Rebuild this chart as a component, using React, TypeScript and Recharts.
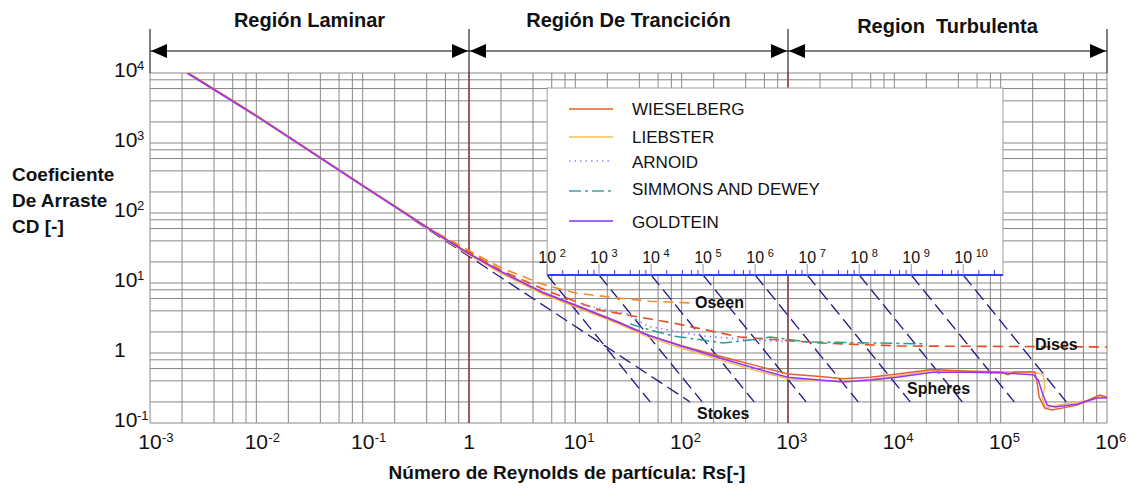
import React from "react";
import { LineChart, Line, XAxis, YAxis, ReferenceLine } from "recharts";

const W = 1131;
const H = 491;
const PL = 150;
const PR = 1107;
const PT = 73;
const PB = 423;
const FONT = '"Liberation Sans", Arial, sans-serif';

const reTicks = [1e-3, 1e-2, 1e-1, 1, 1e1, 1e2, 1e3, 1e4, 1e5, 1e6];
const cdTicks = [1e-1, 1, 1e1, 1e2, 1e3, 1e4];
const gridSteps = [1, 2, 4, 6, 8];

const goldteinRe = [0.00223, 0.01, 0.1, 0.5, 1, 2, 5, 11.8, 25, 48, 100, 230, 500, 1000, 2000, 3300, 6000, 10600, 23000, 50000, 106000, 203000, 226000, 246000, 274000, 326000, 525000, 810000, 1000000];
const goldteinCd = [10000, 2420, 245, 50, 26, 14.5, 7.3, 4.4, 2.8, 1.81, 1.25, 0.85, 0.6, 0.45, 0.41, 0.385, 0.41, 0.45, 0.53, 0.53, 0.52, 0.49, 0.41, 0.27, 0.18, 0.17, 0.187, 0.228, 0.228];

const wieselbergRe = [0.00223, 0.01, 0.1, 0.5, 1, 2, 5, 11.8, 25, 48, 100, 230, 500, 1000, 2000, 3300, 6000, 10600, 23000, 50000, 100000, 117000, 135000, 210000, 220000, 230000, 260000, 305000, 525000, 850000, 1000000];
const wieselbergCd = [10300, 2480, 250, 51, 26.5, 14.6, 7.2, 4.3, 2.75, 1.8, 1.27, 0.9, 0.66, 0.5, 0.46, 0.43, 0.45, 0.5, 0.58, 0.55, 0.535, 0.49, 0.535, 0.535, 0.385, 0.235, 0.163, 0.153, 0.18, 0.25, 0.235];

const liebsterRe = [0.00223, 0.01, 0.1, 0.5, 1, 2, 5, 11.8, 25, 48, 100, 230, 500, 1000, 2000, 3300, 6000, 10600, 23000, 50000, 100000, 200000, 250000, 262000, 245000, 262000, 420000, 650000, 850000, 1000000];
const liebsterCd = [10000, 2400, 242, 49, 25, 13.8, 6.9, 4.15, 2.65, 1.7, 1.17, 0.8, 0.56, 0.43, 0.4, 0.39, 0.42, 0.47, 0.56, 0.55, 0.54, 0.53, 0.5, 0.32, 0.235, 0.165, 0.19, 0.21, 0.24, 0.23];

const arnoidRe = [11.8, 30.7, 47.3, 83.2, 159, 355, 1047];
const arnoidCd = [4.85, 3.61, 2.43, 2.06, 1.75, 1.58, 1.44];

const simmonsRe = [32.8, 47.3, 83.2, 246, 441, 680, 1517, 20400];
const simmonsCd = [2.6, 2.2, 1.75, 1.39, 1.53, 1.69, 1.44, 1.35];

const oseenRe = [0.5, 1, 2, 5, 10, 25, 50, 120];
const oseenCd = [52, 29, 16.5, 9.5, 7.2, 6.1, 5.5, 5.2];

const disesRe = [0.5, 1, 2, 5.8, 17, 83, 355, 2000, 11000, 1000000];
const disesCd = [50, 27.5, 15.2, 7.4, 4.1, 2.68, 1.69, 1.39, 1.26, 1.22];

const stokesRe = [0.3, 120];
const stokesCd = [80, 0.2];

// CD·Re² lines, one per tick of the inner scale (10^2 … 10^10)
const kExp = [2, 3, 4, 5, 6, 7, 8, 9, 10];
const kStartRe = [5.43, 16.7, 51.6, 159, 491, 1517, 4677, 14420, 44460];
const kEndRe = [50.6, 156, 481, 1483, 4571, 14120, 43550, 134300, 414000];
const kTopCd = 13;
const kBottomCd = 0.2;

const legendItems = [
  { name: "WIESELBERG", color: "#e4602e", dash: undefined, width: 1.5 },
  { name: "LIEBSTER", color: "#f6cf7e", dash: undefined, width: 2 },
  { name: "ARNOID", color: "#8a8aff", dash: "1.5 4", width: 1.5 },
  { name: "SIMMONS AND DEWEY", color: "#3aa6a2", dash: "12 4 3 4", width: 1.5 },
  { name: "GOLDTEIN", color: "#a366f2", dash: undefined, width: 2 },
];

const regions = [
  { from: 1e-3, to: 1, label: "Región Laminar", base: 27 },
  { from: 1, to: 1e3, label: "Región De Trancición", base: 27 },
  { from: 1e3, to: 1e6, label: "Region  Turbulenta", base: 33 },
];

const zip = (re: number[], cd: number[]) => re.map((r, i) => ({ re: r, cd: cd[i] }));

const gridRe: number[] = [];
for (let e = -3; e < 6; e++) gridSteps.forEach((s) => gridRe.push(s * Math.pow(10, e)));
gridRe.push(1e6);
const gridCd: number[] = [];
for (let e = -1; e < 4; e++) gridSteps.forEach((s) => gridCd.push(s * Math.pow(10, e)));
gridCd.push(1e4);

// pixel helpers for the overlay (same geometry as the plot area)
const px = (re: number) => PL + ((Math.log10(re) + 3) * (PR - PL)) / 9;
const py = (cd: number) => PB - ((Math.log10(cd) + 1) * (PB - PT)) / 5;

function XTick(props: any) {
  const { x, payload } = props;
  const e = Math.round(Math.log10(payload.value));
  if (e === 0)
    return (
      <text x={x} y={449} textAnchor="middle" fontSize={21} fontFamily={FONT} fill="#111">
        1
      </text>
    );
  return (
    <g fontFamily={FONT} fill="#111">
      <text x={x} y={449} textAnchor="middle" fontSize={21}>10</text>
      <text x={x + 12} y={442} fontSize={13}>{e}</text>
    </g>
  );
}

function YTick(props: any) {
  const { y, payload } = props;
  const e = Math.round(Math.log10(payload.value));
  const base = y + 4;
  if (e === 0)
    return (
      <text x={114} y={base} fontSize={21} fontFamily={FONT} fill="#111">
        1
      </text>
    );
  return (
    <g fontFamily={FONT} fill="#111">
      <text x={114} y={base} fontSize={21}>10</text>
      <text x={137} y={base - 7} fontSize={13}>{e}</text>
    </g>
  );
}

function Arrow({ x, dir }: { x: number; dir: number }) {
  const y = 51;
  return <polygon points={`${x},${y} ${x + dir * 16},${y - 7} ${x + dir * 16},${y + 7}`} fill="#000" />;
}

function Overlay() {
  const x0 = px(kStartRe[0]);
  const x1 = PR - 104;
  const axisY = py(kTopCd);
  const dec = px(kStartRe[1]) - px(kStartRe[0]);
  const boxTop = 88;
  const rowY = [109, 137, 161, 191, 221];
  const rowBase = [115, 143, 168, 195, 228];
  const bounds = [1e-3, 1, 1e3, 1e6];
  return (
    <svg width={W} height={H} style={{ position: "absolute", left: 0, top: 0, pointerEvents: "none" }}>
      {/* region header */}
      {bounds.map((b) => (
        <line key={b} x1={px(b)} x2={px(b)} y1={29} y2={PT} stroke="#000" strokeWidth={1} />
      ))}
      <line x1={PL} x2={PR} y1={51} y2={51} stroke="#000" strokeWidth={1.2} />
      {regions.map((r) => (
        <g key={r.label}>
          <Arrow x={px(r.from) + 1} dir={1} />
          <Arrow x={px(r.to) - 1} dir={-1} />
          <text x={(px(r.from) + px(r.to)) / 2} y={r.base} textAnchor="middle" fontSize={20} fontWeight="bold" fontFamily={FONT} fill="#111" style={{ whiteSpace: "pre" }}>
            {r.label}
          </text>
        </g>
      ))}

      {/* legend box with inner CD·Re² scale */}
      <rect x={x0} y={boxTop} width={x1 - x0} height={axisY - boxTop} fill="#fff" stroke="#a0a0a0" strokeWidth={1} />
      {legendItems.map((it, i) => (
        <g key={it.name}>
          <line x1={569} x2={613} y1={rowY[i]} y2={rowY[i]} stroke={it.color} strokeWidth={it.width} strokeDasharray={it.dash} />
          <text x={632} y={rowBase[i]} fontSize={17} fontFamily={FONT} fill="#111">{it.name}</text>
        </g>
      ))}
      <line x1={x0} x2={x1} y1={axisY} y2={axisY} stroke="#2f3fff" strokeWidth={2} />
      {kExp.map((k, i) => {
        const tx = px(kStartRe[i]);
        return (
          <g key={k} fontFamily={FONT} fill="#111">
            <line x1={tx} x2={tx} y1={axisY - 11} y2={axisY} stroke="#9a9a9a" strokeWidth={1} />
            {[2, 4, 6, 8].map((m) => {
              const mx = tx + dec * Math.log10(m);
              return mx < x1 ? (
                <line key={m} x1={mx} x2={mx} y1={axisY - 5} y2={axisY} stroke="#2f3fff" strokeWidth={1} />
              ) : null;
            })}
            <text x={tx} y={263} textAnchor="middle" fontSize={16}>10</text>
            <text x={tx + 12.5} y={257} fontSize={11}>{k}</text>
          </g>
        );
      })}

      {/* curve names */}
      <g fontFamily={FONT} fontWeight="bold" fontSize={16} fill="#111">
        <text x={695} y={308}>Oseen</text>
        <text x={1035} y={350}>Dises</text>
        <text x={907} y={394}>Spheres</text>
        <text x={697} y={419}>Stokes</text>
      </g>

      {/* axis titles */}
      <g fontFamily={FONT} fontWeight="bold" fontSize={19} fill="#111">
        <text x={12} y={181}>Coeficiente</text>
        <text x={12} y={207}>De Arraste</text>
        <text x={12} y={233}>CD [-]</text>
        <text x={567} y={479} textAnchor="middle">Número de Reynolds de partícula: Rs[-]</text>
      </g>
    </svg>
  );
}

export default function App() {
  const common = { type: "linear" as const, dataKey: "cd", dot: false, isAnimationActive: false, activeDot: false };
  return (
    <div style={{ position: "absolute", left: 0, top: 0, width: W, height: H, background: "#fff" }}>
      <LineChart width={W} height={H} margin={{ top: PT, right: W - PR, bottom: H - PB - 40, left: PL - 60 }}>
        <XAxis
          dataKey="re"
          type="number"
          scale="log"
          domain={[1e-3, 1e6]}
          ticks={reTicks}
          interval={0}
          allowDataOverflow
          height={40}
          tickLine={false}
          axisLine={false}
          tick={<XTick />}
        />
        <YAxis
          type="number"
          scale="log"
          domain={[1e-1, 1e4]}
          ticks={cdTicks}
          interval={0}
          allowDataOverflow
          width={60}
          tickLine={false}
          axisLine={false}
          tick={<YTick />}
        />
        {gridRe.map((v) => (
          <ReferenceLine key={`gx${v}`} x={v} stroke="#888888" strokeWidth={1} />
        ))}
        {gridCd.map((v) => (
          <ReferenceLine key={`gy${v}`} y={v} stroke="#888888" strokeWidth={1} />
        ))}
        <ReferenceLine x={1} stroke="#8b4545" strokeWidth={1.6} />
        <ReferenceLine x={1000} stroke="#8b4545" strokeWidth={1.6} />

        <Line {...common} data={zip(stokesRe, stokesCd)} stroke="#221888" strokeWidth={1.3} strokeDasharray="13 6" name="Stokes" />
        {kExp.map((k, i) => (
          <Line
            key={`k${k}`}
            {...common}
            data={zip([kStartRe[i], kEndRe[i]], [kTopCd, kBottomCd])}
            stroke="#221888"
            strokeWidth={1.3}
            strokeDasharray="13 6"
            name={`k${k}`}
          />
        ))}
        <Line {...common} data={zip(oseenRe, oseenCd)} stroke="#f28c28" strokeWidth={1.6} strokeDasharray="10 6" name="Oseen" />
        <Line {...common} data={zip(disesRe, disesCd)} stroke="#ee4a1c" strokeWidth={1.6} strokeDasharray="10 6" name="Dises" />
        <Line {...common} data={zip(arnoidRe, arnoidCd)} stroke="#8a8aff" strokeWidth={1.8} strokeDasharray="1.5 4" name="ARNOID" />
        <Line {...common} data={zip(simmonsRe, simmonsCd)} stroke="#2c9c98" strokeWidth={1.5} strokeDasharray="12 4 3 4" name="SIMMONS AND DEWEY" />
        <Line {...common} data={zip(liebsterRe, liebsterCd)} stroke="#f2bb55" strokeWidth={1.5} name="LIEBSTER" />
        <Line {...common} data={zip(wieselbergRe, wieselbergCd)} stroke="#e4602e" strokeWidth={1.5} name="WIESELBERG" />
        <Line {...common} data={zip(goldteinRe, goldteinCd)} stroke="#9933ff" strokeWidth={1.5} name="GOLDTEIN" />
      </LineChart>
      <Overlay />
    </div>
  );
}
